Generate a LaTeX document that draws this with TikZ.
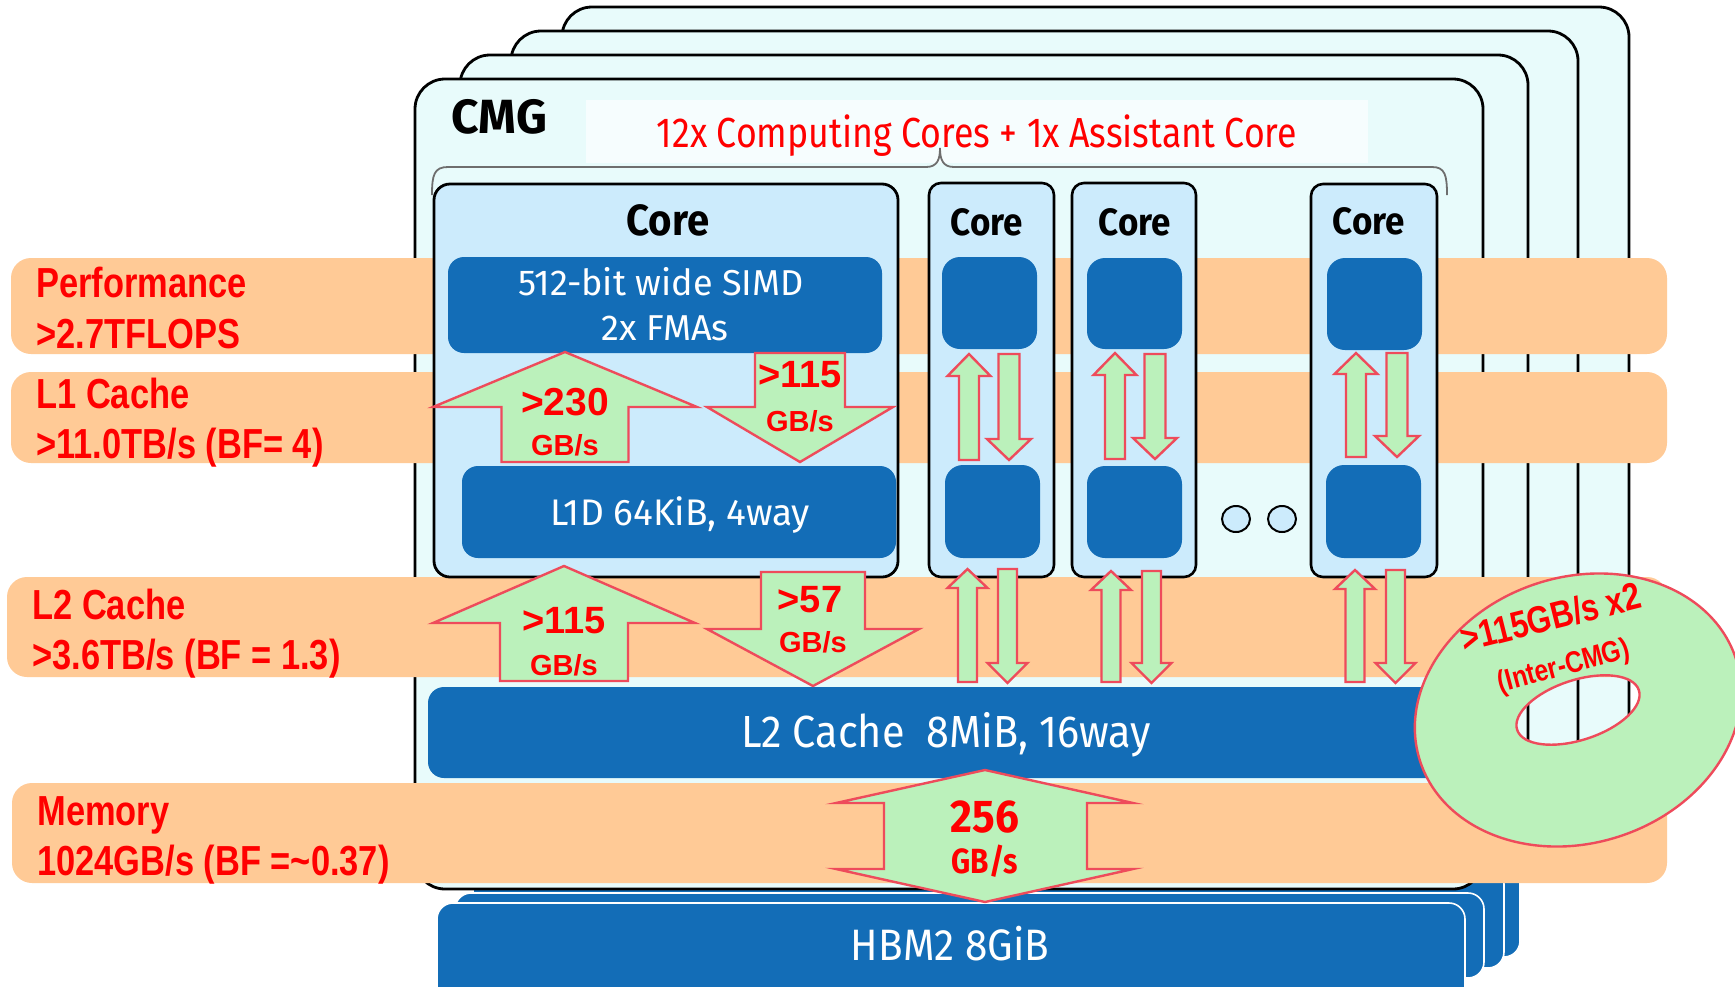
\documentclass[tikz,border=0pt]{standalone}
\usepackage{fontspec}
\newfontfamily\fira{Fira Sans}
\newfontfamily\firaC{Fira Sans}[FakeStretch=0.85]
\newfontfamily\firaT{Fira Sans}[FakeStretch=0.92]
\newfontfamily\lsC{Liberation Sans}[FakeStretch=0.82]
\newfontfamily\ls{Liberation Sans}

\definecolor{cmgfill}{HTML}{E8FBFB}
\definecolor{corefill}{HTML}{CCEBFC}
\definecolor{fjblue}{HTML}{136DB7}
\definecolor{bandfill}{HTML}{FFCA96}
\definecolor{arrfill}{HTML}{BBF1BB}
\definecolor{arrline}{HTML}{EE4B5B}
\definecolor{titlebg}{HTML}{F6FDFE}
\definecolor{bracegrey}{HTML}{6E6E6E}
\definecolor{labred}{HTML}{FF0000}

% block arrow pointing up: cx, tip y, shoulder y, base y, half shaft, half head
\newcommand{\flowup}[6]{%
  \draw[flow] ({#1-#5},#4) -- ({#1-#5},#3) -- ({#1-#6},#3) -- (#1,#2)
    -- ({#1+#6},#3) -- ({#1+#5},#3) -- ({#1+#5},#4) -- cycle;}
% block arrow pointing down: cx, top y, shoulder y, tip y, half shaft, half head
\newcommand{\flowdown}[6]{%
  \draw[flow] ({#1-#5},#2) -- ({#1+#5},#2) -- ({#1+#5},#3) -- ({#1+#6},#3)
    -- (#1,#4) -- ({#1-#6},#3) -- ({#1-#5},#3) -- cycle;}

\begin{document}
\begin{tikzpicture}[x=0.5pt,y=-0.5pt,
  cmgbox/.style={fill=cmgfill, draw=black, line width=1.4pt, rounded corners=15pt},
  corebox/.style={fill=corefill, draw=black, line width=1.4pt, rounded corners=8pt},
  smallcore/.style={fill=corefill, draw=black, line width=1.3pt, rounded corners=6pt},
  unitbox/.style={fill=fjblue, rounded corners=8pt},
  hbmbox/.style={fill=fjblue, draw=white, line width=0.8pt, rounded corners=8pt},
  band/.style={fill=bandfill, rounded corners=10pt},
  flow/.style={fill=arrfill, draw=arrline, line width=1.2pt, line join=miter},
  bandlabel/.style={inner sep=0pt, anchor=base west, text=labred,
    font=\lsC\bfseries\fontsize{21pt}{24pt}\selectfont},
  rate/.style={inner sep=0pt, anchor=base, text=labred,
    font=\ls\bfseries\fontsize{19pt}{22pt}\selectfont},
  unit/.style={inner sep=0pt, anchor=base, text=labred,
    font=\ls\bfseries\fontsize{14.5pt}{17pt}\selectfont},
  coretitle/.style={inner sep=0pt, anchor=base,
    font=\firaT\bfseries\fontsize{19pt}{22pt}\selectfont},
  whitetext/.style={inner sep=0pt, anchor=base, text=white},
]
\useasboundingbox (0,0) rectangle (1735,986);
\fill[white] (0,0) rectangle (1735,986);

% stacked CMGs behind the front one
\draw[cmgbox] (562,7) rectangle (1629,870);
\draw[cmgbox] (511,31) rectangle (1578,870);
\draw[cmgbox] (460,55) rectangle (1528,870);

% HBM2 stack
\draw[hbmbox] (492,855) rectangle (1520,957);
\draw[hbmbox] (473,868) rectangle (1504,968);
\draw[hbmbox] (455,893) rectangle (1484,978);
\draw[hbmbox] (437,903) rectangle (1465,1010);
\node[whitetext, font=\firaT\fontsize{22pt}{26pt}\selectfont] (hbm) at (950,960) {HBM2 8GiB};

% front CMG
\draw[cmgbox] (415,79) rectangle (1483,889);
\fill[titlebg] (586,100) rectangle (1368,163);
\node[inner sep=0pt, anchor=base west, font=\fira\bfseries\fontsize{24pt}{28pt}\selectfont] (cmg) at (451,133) {CMG};
\node[inner sep=0pt, anchor=base, text=labred, font=\firaC\fontsize{21pt}{25pt}\selectfont] (cores) at (977,147) {12x Computing Cores + 1x Assistant Core};
\draw[bracegrey, line width=0.9pt]
  (432,195) .. controls (432,175) and (434,167) .. (448,167) -- (926,167)
  .. controls (937,167) and (940,160) .. (940,148)
  .. controls (940,160) and (943,167) .. (954,167) -- (1432,167)
  .. controls (1445,167) and (1447,175) .. (1447,195);

% bandwidth bands
\fill[band] (11,258) rectangle (1667,354);
\fill[band] (11,372) rectangle (1667,463);
\fill[band] (7,577) rectangle (1667,677);
\fill[band] (12,783) rectangle (1667,883);

% main core
\draw[corebox] (434,184) rectangle (898,577);
\node[coretitle, font=\firaT\bfseries\fontsize{21.8pt}{25pt}\selectfont] (core1) at (668,235) {Core};
\fill[unitbox] (448,257) rectangle (882,353);
\node[whitetext, font=\fira\fontsize{18pt}{21pt}\selectfont] (simd) at (661,295) {512-bit wide SIMD};
\node[whitetext, font=\fira\fontsize{18pt}{21pt}\selectfont] (fma) at (665,340) {2x FMAs};
\fill[unitbox] (462,466) rectangle (896,558);
\node[whitetext, font=\fira\fontsize{18.5pt}{21pt}\selectfont] (l1d) at (680,525) {L1D 64KiB, 4way};

% further cores
\draw[smallcore] (929,183) rectangle (1054,577);
\draw[smallcore] (1072,183) rectangle (1196,577);
\draw[smallcore] (1311,184) rectangle (1437,577);
\node[coretitle] (core2) at (987,235) {Core};
\node[coretitle] (core3) at (1135,235) {Core};
\node[coretitle] (core4) at (1369,234) {Core};
\fill[unitbox, rounded corners=9pt] (942,257) rectangle (1037,349);
\fill[unitbox, rounded corners=9pt] (1087,258) rectangle (1182,349);
\fill[unitbox, rounded corners=9pt] (1327,258) rectangle (1422,350);
\fill[unitbox, rounded corners=9pt] (945,465) rectangle (1040,558);
\fill[unitbox, rounded corners=9pt] (1087,466) rectangle (1182,558);
\fill[unitbox, rounded corners=9pt] (1326,465) rectangle (1421,558);

% ellipsis
\draw[fill=corefill, line width=1pt] (1236,519) ellipse [x radius=7pt, y radius=6.5pt];
\draw[fill=corefill, line width=1pt] (1282,519) ellipse [x radius=7pt, y radius=6.5pt];

% L2 cache
\fill[unitbox] (428,687) rectangle (1470,778);
\node[whitetext, font=\firaT\fontsize{22.5pt}{27pt}\selectfont] (l2) at (946,747) {L2 Cache\ \ 8MiB, 16way};

% core <-> L1 and L1 <-> L2 traffic
\flowup{565}{352}{407}{462}{63.5}{132}
\flowdown{800}{353}{407}{462}{45}{93}
\flowup{564}{566}{623}{681}{64}{131}
\flowdown{813}{572}{629}{686}{52}{106}

\flowup{969}{354}{376}{460}{10}{21.5}
\flowdown{1009}{354}{439}{460}{10.5}{22}
\flowup{1115}{353}{375}{459}{10}{21.5}
\flowdown{1155}{354}{438}{459}{10.5}{22}
\flowup{1356}{353}{374}{457}{10}{21.5}
\flowdown{1397}{353}{436}{457}{10.5}{22}

\flowup{967.5}{569}{588}{682}{9.5}{20}
\flowdown{1007.5}{569}{663}{683}{9.5}{20}
\flowup{1111}{571}{590}{682}{9.5}{20}
\flowdown{1151.5}{571}{663}{683}{9.5}{20}
\flowup{1355}{570}{589}{682}{9.5}{20}
\flowdown{1395.5}{570}{663}{683}{9.5}{20}

\node[rate, font=\ls\bfseries\fontsize{19.5pt}{22pt}\selectfont] (r230) at (565,415) {>230};
\node[unit] (u230) at (565,455) {GB/s};
\node[rate] (r115a) at (800,387) {>115};
\node[unit] (u115a) at (800,431) {GB/s};
\node[rate] (r115b) at (564,633) {>115};
\node[unit] (u115b) at (564,675) {GB/s};
\node[rate] (r57) at (810,612) {>57};
\node[unit] (u57) at (813,652) {GB/s};

% memory traffic
\draw[flow] (985,770) -- (1133,803) -- (1087,803) -- (1087,869) -- (1133,869)
  -- (985,902) -- (836,869) -- (884,869) -- (884,803) -- (836,803) -- cycle;
\node[inner sep=0pt, anchor=base, text=labred, font=\firaT\bfseries\fontsize{23pt}{26pt}\selectfont] (r256) at (985,832) {256};
\node[inner sep=0pt, anchor=base, text=labred, font=\firaC\bfseries\fontsize{17.5pt}{20pt}\selectfont] (u256) at (985,873) {GB/s};

% inter-CMG ring
\path[fill=arrfill, even odd rule, rotate around={18:(1578,710)}]
  (1578,710) ellipse [x radius=83pt, y radius=66.5pt]
  (1578,710) ellipse [x radius=32pt, y radius=15pt];
\draw[arrline, line width=1.2pt, rotate around={18:(1578,710)}]
  (1578,710) ellipse [x radius=83pt, y radius=66.5pt]
  (1578,710) ellipse [x radius=32pt, y radius=15pt];
\node[inner sep=0pt, anchor=base, text=labred, rotate=14,
  font=\lsC\bfseries\fontsize{19pt}{22pt}\selectfont] (ring) at (1554,630) {>115GB/s x2};
\node[inner sep=0pt, anchor=base, text=labred, rotate=15,
  font=\lsC\bfseries\fontsize{15pt}{18pt}\selectfont] (ringsub) at (1566,675) {(Inter-CMG)};

% band labels
\node[bandlabel] (perf) at (36,297) {Performance};
\node[bandlabel] (perfv) at (36,348) {>2.7TFLOPS};
\node[bandlabel] (l1lab) at (36,408) {L1 Cache};
\node[bandlabel] (l1v) at (36,458) {>11.0TB/s (BF= 4)};
\node[bandlabel] (l2lab) at (32,619) {L2 Cache};
\node[bandlabel] (l2v) at (32,669) {>3.6TB/s (BF = 1.3)};
\node[bandlabel] (memlab) at (37,825) {Memory};
\node[bandlabel] (memv) at (37,875) {1024GB/s (BF =\textasciitilde 0.37)};
\end{tikzpicture}
\end{document}
